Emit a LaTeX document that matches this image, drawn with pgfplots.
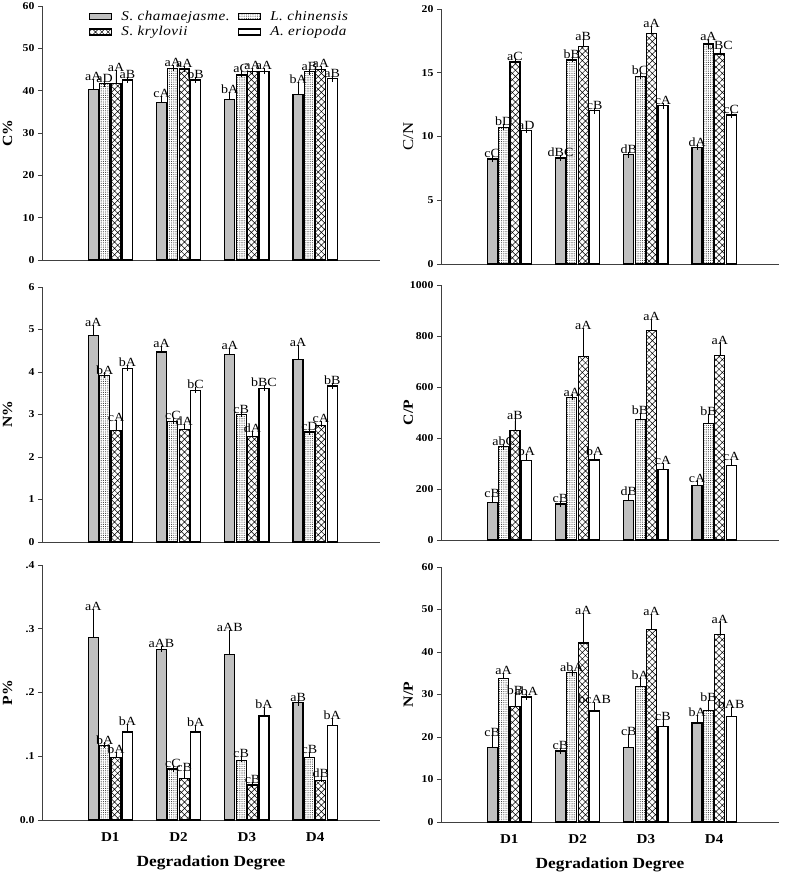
\documentclass[border=0pt]{standalone}
\usepackage{fontspec}
\setmainfont{Liberation Serif}[FakeStretch=1.12]
\usepackage{pgfplots}
\usepackage{pgfplotstable}
\pgfplotsset{compat=1.18}
\usetikzlibrary{patterns.meta}
\definecolor{barg}{RGB}{192,192,192}

\pgfplotstableread{
x y1 e1 l1 y2 e2 l2 y3 e3 l3 y4 e4 l4
1 40.3 1.8 aA 41.6 0 aD 41.6 2.6 aA 42.5 0 aB
2 37.2 0.9 cA 45.3 0 aA 45.1 0 aA 42.5 0 bB
3 38.0 1.0 bA 43.7 0.2 aC 44.6 0 aA 44.6 0 aA
4 39.1 2.2 bA 44.5 0 aB 45.0 0.2 aA 42.8 0 aB
}\tA
\pgfplotstableread{
x y1 e1 l1 y2 e2 l2 y3 e3 l3 y4 e4 l4
1 8.24 0 cC 10.72 0.05 bD 15.84 0.05 aC 10.48 0 aD
2 8.31 0 dBC 16.0 0.05 bB 17.07 0.35 aB 12.03 0 cB
3 8.58 0 dB 14.69 0.05 bC 18.07 0.35 aA 12.42 0 cA
4 9.15 0 dA 17.25 0.2 aA 16.47 0.22 bBC 11.69 0 cC
}\tB
\pgfplotstableread{
x y1 e1 l1 y2 e2 l2 y3 e3 l3 y4 e4 l4
1 4.86 0.18 aA 3.92 0 bA 2.63 0.17 cA 4.09 0 bA
2 4.47 0.08 aA 2.84 0 cC 2.64 0.07 dA 3.57 0 bC
3 4.42 0.08 aA 3.00 0 cB 2.49 0.06 dA 3.62 0 bBC
4 4.30 0.26 aA 2.59 0 cD 2.74 0.03 cA 3.67 0 bB
}\tC
\pgfplotstableread{
x y1 e1 l1 y2 e2 l2 y3 e3 l3 y4 e4 l4
1 146 17 cB 366 0 abC 429 38 aB 311 16 bA
2 141 0 cB 559 0 aA 719 102 aA 314 13 bA
3 154 16 dB 471 15 bB 820 34 aA 277 13 cA
4 213 9 cA 458 26 bB 724 39 aA 293 14 cA
}\tD
\pgfplotstableread{
x y1 e1 l1 y2 e2 l2 y3 e3 l3 y4 e4 l4
1 0.286 0.040 aA 0.117 0 bA 0.098 0.004 bA 0.138 0.008 bA
2 0.268 0 aAB 0.080 0 cC 0.065 0.009 cB 0.138 0.006 bA
3 0.259 0.035 aAB 0.093 0.003 cB 0.055 0 cB 0.163 0.010 bA
4 0.184 0 aB 0.098 0.004 cB 0.062 0.003 dB 0.148 0.008 bA
}\tE
\pgfplotstableread{
x y1 e1 l1 y2 e2 l2 y3 e3 l3 y4 e4 l4
1 17.5 2.3 cB 33.7 0.6 aA 27.1 2.7 bB 29.4 0 abA
2 16.7 0 cB 35.1 0 abA 42.1 6.4 aA 26.1 1.4 bcAB
3 17.5 2.5 cB 31.8 1.5 bA 45.3 2.9 aA 22.5 1.0 cB
4 23.3 1.2 bA 26.3 1.7 bB 44.2 2.3 aA 24.9 1.5 bAB
}\tF

\pgfplotsset{
  panel/.style={scale only axis, xmin=0, xmax=4.95, ymin=0,
    axis x line*=bottom, axis y line*=left,
    axis line style={black!75, line width=0.8pt},
    xtick={1,2,3,4}, xticklabels={}, x tick style={draw=none},
    tick align=outside, ytick pos=left,
    y tick style={black!75, line width=0.8pt}, major tick length=4pt,
    yticklabel style={font=\bfseries\fontsize{10.5}{10.5}\selectfont},
    /pgf/number format/assume math mode=true,
    /pgf/number format/set thousands separator={},
    ylabel style={at={(axis description cs:-0.102,0.5)}, anchor=center, font=\bfseries\fontsize{14}{14}\selectfont},
    clip=false},
  bars/.style={ybar, bar width=10pt, bar shift=0pt, draw=black, line width=1.2pt,
    error bars/y dir=plus, error bars/y explicit,
    error bars/error bar style={black, line width=0.6pt},
    error bars/error mark options={black, line width=0.6pt, mark size=3pt}},
  s1/.style={bars, fill=barg},
  s2/.style={bars, pattern={Dots[distance=2.2pt, radius=0.55pt]}, pattern color=black!80},
  s3/.style={bars, pattern={Hatch[angle=45, distance=4.5pt, line width=0.5pt]}, pattern color=black},
  s4/.style={bars, fill=white},
  lab/.style={ybar, bar width=10pt, bar shift=0pt, draw=none, fill=none, forget plot,
    nodes near coords, point meta=explicit symbolic,
    every node near coord/.append style={font=\fontsize{12.5}{12.5}\selectfont, text=black, inner sep=1pt}},
  bottomx/.style={xticklabels={D1,D2,D3,D4},
    xticklabel style={font=\bfseries\fontsize{13.5}{13.5}\selectfont, yshift=-5pt},
    xlabel={Degradation Degree},
    xlabel style={at={(axis description cs:0.5,-0.168)}, anchor=center, font=\bfseries\fontsize{15.5}{15.5}\selectfont}},
}

\newcommand{\allplots}[1]{%
  \addplot[s1] table[x expr=\thisrow{x}-0.25,y=y1,y error=e1] {#1};
  \addplot[s2] table[x expr=\thisrow{x}-0.0835,y=y2,y error=e2] {#1};
  \addplot[s3] table[x expr=\thisrow{x}+0.0835,y=y3,y error=e3] {#1};
  \addplot[s4] table[x expr=\thisrow{x}+0.25,y=y4,y error=e4] {#1};
  \addplot[lab] table[x expr=\thisrow{x}-0.25,y expr=\thisrow{y1}+\thisrow{e1},meta=l1] {#1};
  \addplot[lab] table[x expr=\thisrow{x}-0.0835,y expr=\thisrow{y2}+\thisrow{e2},meta=l2] {#1};
  \addplot[lab] table[x expr=\thisrow{x}+0.0835,y expr=\thisrow{y3}+\thisrow{e3},meta=l3] {#1};
  \addplot[lab] table[x expr=\thisrow{x}+0.25,y expr=\thisrow{y4}+\thisrow{e4},meta=l4] {#1};
}

\begin{document}
\begin{tikzpicture}
\path[use as bounding box] (0,0) rectangle (784pt,872pt);

% C%
\begin{axis}[panel, at={(42pt,612pt)}, anchor=south west, width=338pt, height=254pt,
  ymax=60, ytick={0,10,...,60}, ylabel={C\%},
  legend columns=2, legend cell align=left,
  legend style={at={(axis description cs:0.138,0.998)}, anchor=north west, draw=none, fill=none,
    font=\itshape\fontsize{13.5}{15}\selectfont\addfontfeature{LetterSpace=4}, row sep=1pt, inner xsep=0pt,
    nodes={inner xsep=0pt},
    /tikz/every even column/.append style={column sep=8pt}},
  legend image code/.code={\path[draw=none, fill=none, pattern=none] (0pt,0pt) rectangle (32pt,0.1pt); \draw[#1, line width=1.2pt] (0pt,-3pt) rectangle (22pt,3pt);}]
\allplots{\tA}
\legend{S. chamaejasme., L. chinensis, S. krylovii, A. eriopoda}
\end{axis}

% C/N
\begin{axis}[panel, at={(441pt,608pt)}, anchor=south west, width=338pt, height=255pt,
  ymax=20, ytick={0,5,...,20}, ylabel={C/N},
  ylabel style={at={(axis description cs:-0.097,0.5)}, font=\fontsize{15}{15}\selectfont}]
\allplots{\tB}
\end{axis}

% N%
\begin{axis}[panel, at={(42pt,330pt)}, anchor=south west, width=338pt, height=255pt,
  ymax=6, ytick={0,1,...,6}, ylabel={N\%}]
\allplots{\tC}
\end{axis}

% C/P
\begin{axis}[panel, at={(441pt,332pt)}, anchor=south west, width=338pt, height=255pt,
  ymax=1000, ytick={0,200,...,1000}, ylabel={C/P},
  ylabel style={at={(axis description cs:-0.097,0.5)}}]
\allplots{\tD}
\end{axis}

% P%
\begin{axis}[panel, bottomx, at={(42pt,52pt)}, anchor=south west, width=338pt, height=255pt,
  ymax=0.4, ytick={0,0.1,0.2,0.3,0.4}, yticklabels={0.0,.1,.2,.3,.4}, ylabel={P\%}]
\allplots{\tE}
\end{axis}

% N/P
\begin{axis}[panel, bottomx, at={(441pt,50pt)}, anchor=south west, width=338pt, height=255pt,
  ymax=60, ytick={0,10,...,60}, ylabel={N/P},
  ylabel style={at={(axis description cs:-0.097,0.5)}}]
\allplots{\tF}
\end{axis}
\end{tikzpicture}
\end{document}
